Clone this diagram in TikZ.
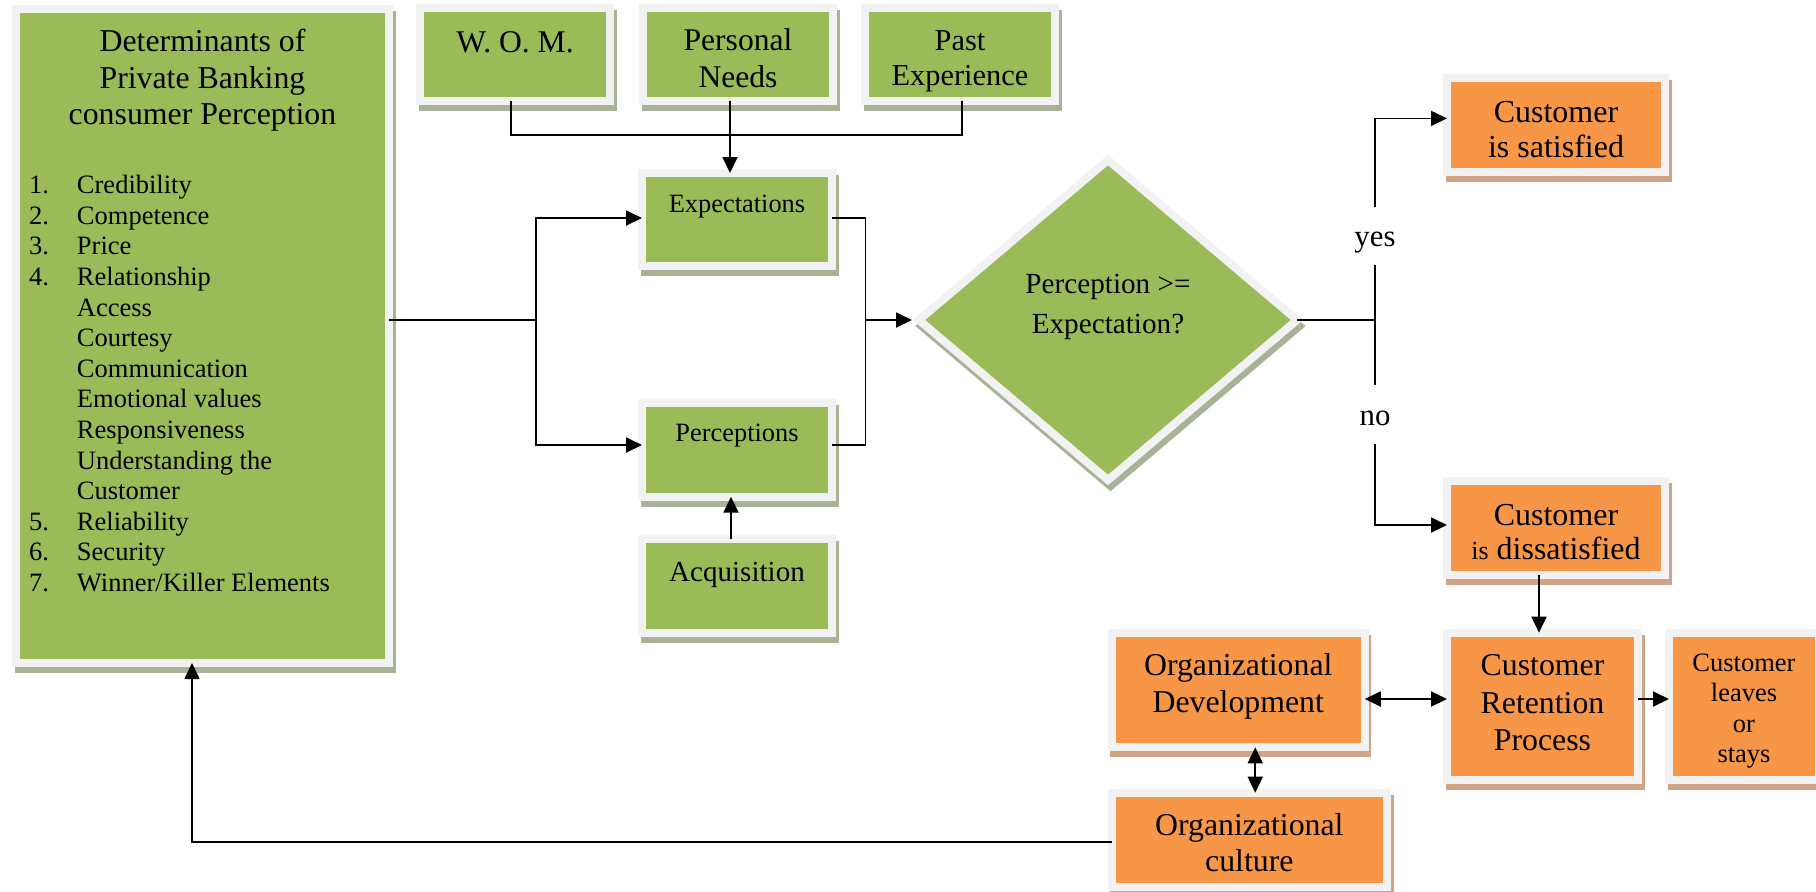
\documentclass[tikz,border=0pt]{standalone}
\usepackage{fontspec}
\setmainfont{Liberation Serif}
\usetikzlibrary{shapes.geometric,shadows,arrows.meta,calc}
\definecolor{gfill}{HTML}{9BBB59}
\definecolor{ofill}{HTML}{F79646}
\definecolor{frm}{HTML}{F2F2F2}
\definecolor{gsh}{RGB}{168,178,150}
\definecolor{osh}{RGB}{208,165,135}
\newcommand\btxt[2]{\raisebox{#1}[0pt][0pt]{\begin{tabular}[t]{@{}c@{}}#2\end{tabular}}}
\newcommand\itm[1]{\hspace*{6.5pt}\makebox[24pt][l]{#1}}
\newcommand\subitm{\hspace*{30.5pt}}
\begin{document}
\begin{tikzpicture}[x=0.5pt,y=-0.5pt,
  base/.style={line width=4pt, draw=frm, inner sep=0pt, outer sep=0pt},
  gbox/.style={base, fill=gfill, general shadow={fill=gsh, draw=gsh, line width=4pt, shadow xshift=1.25pt, shadow yshift=-3pt}},
  obox/.style={base, fill=ofill, general shadow={fill=osh, draw=osh, line width=4pt, shadow xshift=1.25pt, shadow yshift=-3pt}},
  ln/.style={line width=0.9pt, draw=black},
  arr/.style={ln, -{Triangle[length=8pt,width=7.5pt]}},
  darr/.style={ln, {Triangle[length=8pt,width=7.5pt]}-{Triangle[length=8pt,width=7.5pt]}},
  lbl/.style={inner sep=0pt, text height=19.75pt, text depth=9pt, font=\fontsize{15.4}{18}\selectfont},
]
\useasboundingbox (0,0) rectangle (1816,891);

% left determinants box
\node[gbox, minimum width=186.5pt, minimum height=327pt, font=\fontsize{15.9}{18.15}\selectfont] (det) at (202.5,336)
 {\raisebox{142.15pt}[0pt][0pt]{\parbox[t]{186.5pt}{\centering Determinants of\\Private Banking\\consumer Perception\par\vspace{19.35pt}\raggedright\fontsize{13.25}{15.3}\selectfont
 \itm{1.}Credibility\\
 \itm{2.}Competence\\
 \itm{3.}Price\\
 \itm{4.}Relationship\\
 \subitm Access\\
 \subitm Courtesy\\
 \subitm Communication\\
 \subitm Emotional values\\
 \subitm Responsiveness\\
 \subitm Understanding the\\
 \subitm Customer\\
 \itm{5.}Reliability\\
 \itm{6.}Security\\
 \itm{7.}Winner/Killer Elements}}};

% top boxes
\node[gbox, minimum width=95pt, minimum height=46.5pt, font=\fontsize{15.8}{18.5}\selectfont] (wom) at (515,54.5) {\btxt{1pt}{W. O. M.}};
\node[gbox, minimum width=95pt, minimum height=46.5pt, font=\fontsize{15.8}{18.5}\selectfont] (pn) at (738,54.5) {\btxt{2.25pt}{Personal\\Needs}};
\node[gbox, minimum width=95pt, minimum height=46.5pt, font=\fontsize{15.2}{17.5}\selectfont] (pe) at (960,54.5) {\btxt{2.25pt}{Past\\Experience}};

% middle column
\node[gbox, minimum width=95pt, minimum height=46.5pt, font=\fontsize{13.2}{16}\selectfont] (exp) at (737,219.5) {\btxt{3.75pt}{Expectations}};
\node[gbox, minimum width=95pt, minimum height=47pt, font=\fontsize{13.2}{16}\selectfont] (prc) at (737,449.7) {\btxt{4.1pt}{Perceptions}};
\node[gbox, minimum width=95pt, minimum height=47pt, font=\fontsize{14.55}{17}\selectfont] (acq) at (737,586) {\btxt{2.5pt}{Acquisition}};

% decision
\node[gbox, diamond, minimum width=189pt, minimum height=160pt, font=\fontsize{14.6}{20}\selectfont] (dia) at (1108,320) {\btxt{13.5pt}{Perception >=\\Expectation?}};

% orange boxes
\node[obox, minimum width=109pt, minimum height=47.2pt, font=\fontsize{16}{17.5}\selectfont] (sat) at (1556,124.8) {\btxt{1.4pt}{Customer\\is satisfied}};
\node[obox, minimum width=109pt, minimum height=47pt, font=\fontsize{16}{17}\selectfont] (dis) at (1556,528) {\btxt{1.5pt}{Customer\\{\fontsize{13}{15}\selectfont is} dissatisfied}};
\node[obox, minimum width=126.5pt, minimum height=57.3pt, font=\fontsize{15.9}{18.75}\selectfont] (od) at (1238.25,690) {\btxt{7.5pt}{Organizational\\Development}};
\node[obox, minimum width=95.5pt, minimum height=73.65pt, font=\fontsize{15.9}{18.75}\selectfont] (ret) at (1542.5,706.35) {\btxt{15.2pt}{Customer\\Retention\\Process}};
\node[obox, minimum width=75pt, minimum height=73.5pt, font=\fontsize{13.25}{15.25}\selectfont] (lv) at (1744,706.2) {\btxt{17.6pt}{Customer\\leaves\\or\\stays}};
\node[obox, minimum width=137.65pt, minimum height=47pt, font=\fontsize{15.9}{18.35}\selectfont] (cul) at (1249.35,839.7) {\btxt{2.35pt}{Organizational\\culture}};

% yes / no labels
\node[lbl, anchor=base] (yes) at (1375,246.4) {yes};
\node[lbl, anchor=base] (no) at (1375,425.3) {no};

% junction coordinates
\coordinate (jn) at (730,135);
\coordinate (sp) at (536,320);
\coordinate (mg) at (865.5,320);
\coordinate (yn) at (1375,320);

% connectors
\draw[ln] ($(wom.south)+(-4,0)$) |- (jn) -| ($(pe.south)+(2,0)$);
\draw[arr] (jn |- pn.south) -- (jn |- exp.north);

\draw[ln] (det.east |- sp) -- (sp);
\draw[arr] (sp) |- ($(exp.west)+(0,-1.5)$);
\draw[arr] (sp) |- ($(prc.west)+(0,-4.7)$);

\draw[arr] ($(acq.north)+(-6,0)$) -- ($(prc.south)+(-6,0)$);

\draw[ln] ($(exp.east)+(0,-1.5)$) -| (mg);
\draw[ln] ($(prc.east)+(0,-4.7)$) -| (mg);
\draw[arr] (mg) -- ($(dia.west)+(-7,0)$);

\draw[ln] (dia.east) -- (yn);
\draw[ln] (yes.south) -- (no.north);
\draw[arr] (yes.north) |- ($(sat.west)+(0,-6.4)$);
\draw[arr] (no.south) |- ($(dis.west)+(0,-3)$);

\draw[arr] ($(dis.south)+(-17,0)$) -- ($(ret.north)+(-3.5,0)$);
\draw[darr] ($(od.east)+(0,9)$) -- ($(ret.west)+(0,-7.35)$);
\draw[arr] ($(ret.east)+(0,-7.35)$) -- ($(lv.west)+(0,-7.2)$);
\draw[darr] ($(od.south)+(17,0)$) -- ($(cul.north)+(5.9,0)$);
\draw[arr] ($(cul.west)+(0,2.6)$) -| ($(det.south)+(-10.5,0)$);
\end{tikzpicture}
\end{document}
